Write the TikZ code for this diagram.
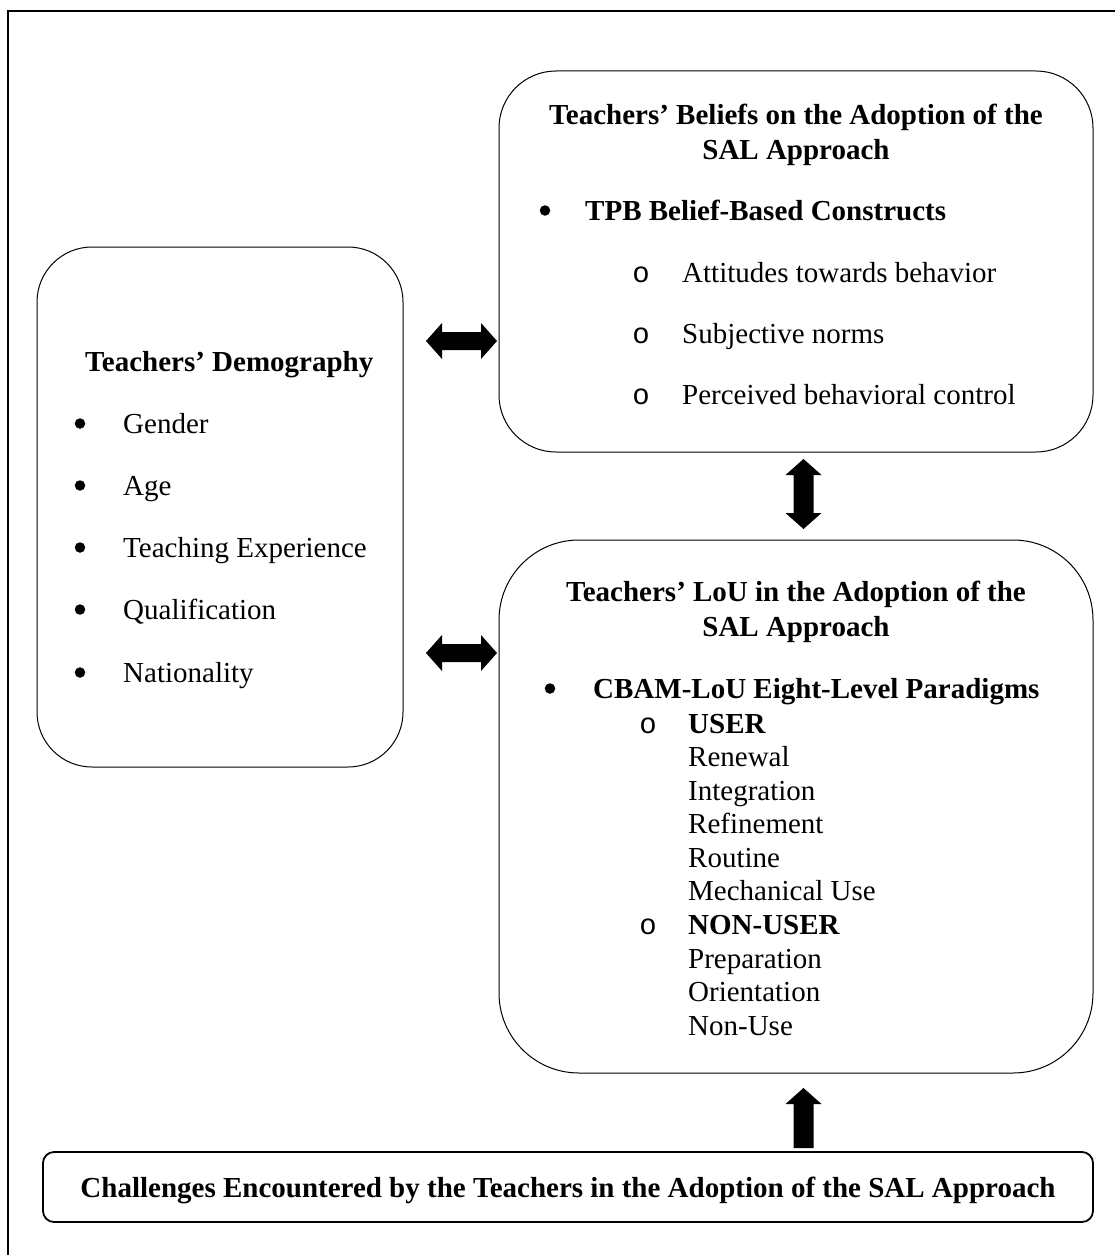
\documentclass[tikz,border=0pt]{standalone}
\usepackage{fontspec}
\setmainfont{Liberation Serif}
\newfontfamily\ringfont{Liberation Mono}
\usetikzlibrary{calc}
\tikzset{
  box/.style={draw, line width=1pt, inner sep=0pt},
  txt/.style={anchor=base west, inner sep=0pt, font=\fontsize{29}{33.5}\selectfont},
  ctxt/.style={anchor=base, inner sep=0pt, font=\fontsize{29}{33.5}\selectfont\bfseries},
  bul/.style={circle, fill=black, inner sep=0pt, minimum size=10.5pt, yshift=9.5pt},
  ring/.style={anchor=base, inner sep=0pt, font=\fontsize{29}{33.5}\ringfont},
  blk/.style={fill=black}
}
\begin{document}
\begin{tikzpicture}[x=1pt,y=-1pt]
\useasboundingbox (0,0) rectangle (1114,1255);
\fill[white] (0,0) rectangle (1114,1255);
% outer frame
\draw[line width=1.5pt] (8,1262) -- (8,11) -- (1120,11);

% boxes
\node[box, minimum width=366pt, minimum height=520pt, rounded corners=55pt] (demo) at (220,507) {};
\node[box, minimum width=594pt, minimum height=381pt, rounded corners=57pt] (belief) at (796,261.5) {};
\node[box, minimum width=594pt, minimum height=533pt, rounded corners=80pt] (lou) at (796,806.5) {};
\node[box, line width=1.8pt, minimum width=1050pt, minimum height=70pt, rounded corners=11pt] (chal) at (568,1187) {};

% left box text
\node[txt, font=\fontsize{29}{33.5}\selectfont\bfseries] (dtitle) at (85,371) {Teachers’ Demography};
\foreach \y/\t [count=\i] in {433/Gender,495/Age,557/Teaching Experience,619/Qualification,682/Nationality}{
  \node[bul] (db\i) at (80,\y) {};
  \node[txt] (dt\i) at (123,\y) {\t};
}

% top right box text
\node[ctxt] (bt1) at (796,124) {Teachers’ Beliefs on the Adoption of the};
\node[ctxt] (bt2) at (796,159) {SAL Approach};
\node[bul] (bb) at (545,220) {};
\node[txt, font=\fontsize{29}{33.5}\selectfont\bfseries] (bh) at (585,220) {TPB Belief-Based Constructs};
\foreach \y/\t [count=\i] in {282/Attitudes towards behavior,343/Subjective norms,404/Perceived behavioral control}{
  \node[ring] (bo\i) at (641,\y) {o};
  \node[txt] (bi\i) at (682,\y) {\t};
}

% lower right box text
\node[ctxt] (lt1) at (796,601) {Teachers’ LoU in the Adoption of the};
\node[ctxt] (lt2) at (796,636) {SAL Approach};
\node[bul] (lb) at (550,698) {};
\node[txt, font=\fontsize{29}{33.5}\selectfont\bfseries] (lh) at (593,698) {CBAM-LoU Eight-Level Paradigms};
\node[ring] (lo1) at (648,733) {o};
\node[txt, font=\fontsize{29}{33.5}\selectfont\bfseries] (luser) at (688,733) {USER};
\foreach \y/\t [count=\i] in {766/Renewal,800/Integration,833/Refinement,867/Routine,900/Mechanical Use}{
  \node[txt] (lu\i) at (688,\y) {\t};
}
\node[ring] (lo2) at (648,934) {o};
\node[txt, font=\fontsize{29}{33.5}\selectfont\bfseries] (lnon) at (688,934) {NON-USER};
\foreach \y/\t [count=\i] in {968/Preparation,1001/Orientation,1035/Non-Use}{
  \node[txt] (ln\i) at (688,\y) {\t};
}

% challenge text
\node[ctxt] (ct) at (568,1197) {Challenges Encountered by the Teachers in the Adoption of the SAL Approach};

% arrows
\coordinate (h1a) at (426,341); \coordinate (h1b) at (497,341);
\coordinate (h2a) at (426,653); \coordinate (h2b) at (497,653);
\coordinate (v1a) at (803.5,459); \coordinate (v1b) at (803.5,529);
\coordinate (u1a) at (803.5,1088); \coordinate (u1b) at (803.5,1148);

\fill[blk] (h1a) -- ++(16,-18) -- ++(0,9) -- ($(h1b)+(-16,-9)$) -- ++(0,-9) -- (h1b) -- ++(-16,18) -- ++(0,-9) -- ($(h1a)+(16,9)$) -- ++(0,9) -- cycle;
\fill[blk] (h2a) -- ++(16,-18) -- ++(0,9) -- ($(h2b)+(-16,-9)$) -- ++(0,-9) -- (h2b) -- ++(-16,18) -- ++(0,-9) -- ($(h2a)+(16,9)$) -- ++(0,9) -- cycle;
\fill[blk] (v1a) -- ++(18,16) -- ++(-8,0) -- ($(v1b)+(10,-16)$) -- ++(8,0) -- (v1b) -- ++(-18,-16) -- ++(8,0) -- ($(v1a)+(-10,16)$) -- ++(-8,0) -- cycle;
\fill[blk] (u1a) -- ++(18,16) -- ++(-8,0) -- ($(u1b)+(10,0)$) -- ++(-20,0) -- ($(u1a)+(-10,16)$) -- ++(-8,0) -- cycle;
\end{tikzpicture}
\end{document}
